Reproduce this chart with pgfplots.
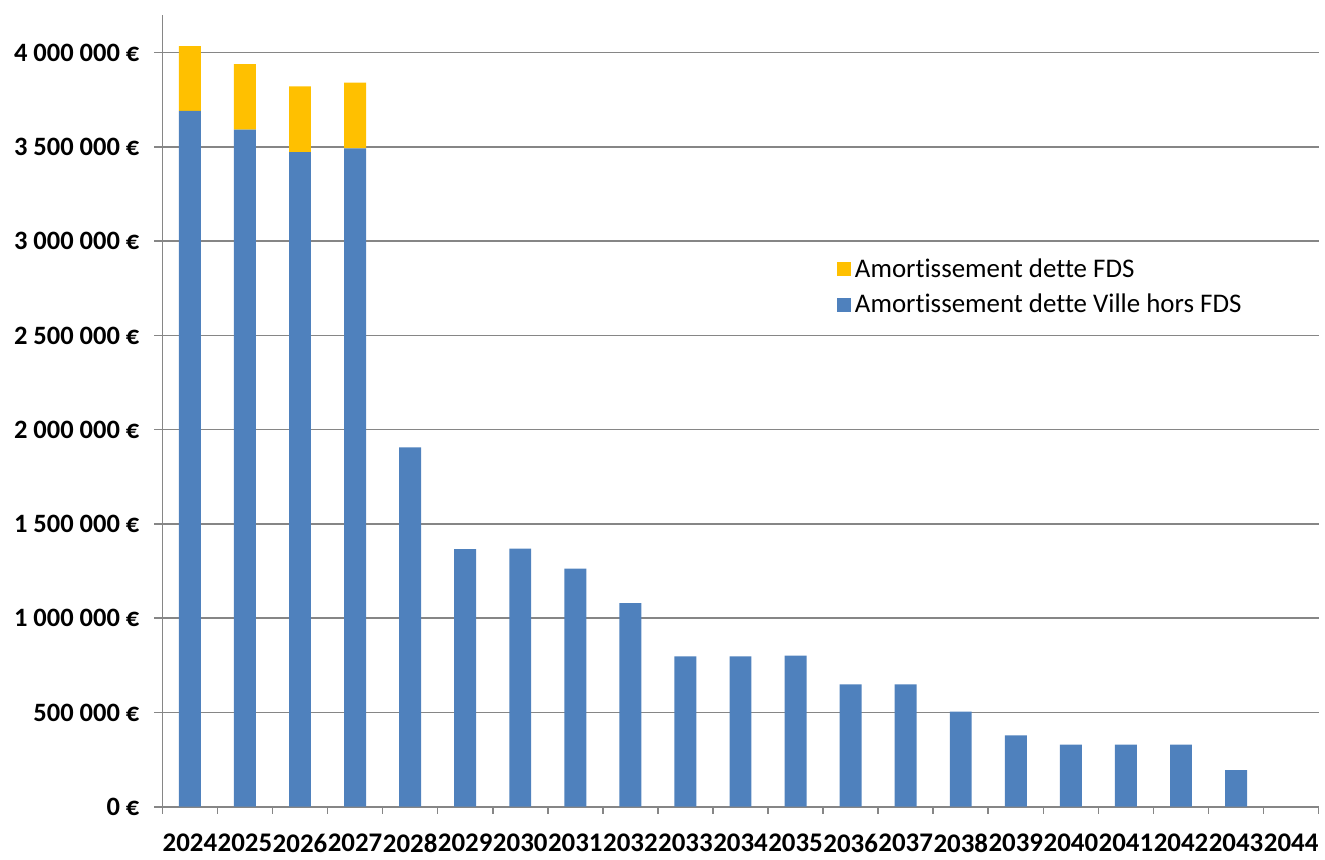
\documentclass[border=0pt]{standalone}
\usepackage{pgfplots}
\pgfplotsset{compat=1.18}
\usepackage{fontspec}
\setmainfont[Ligatures={NoCommon}]{Carlito}
\definecolor{xlblue}{RGB}{79,129,189}
\definecolor{xlgold}{RGB}{255,192,0}
\definecolor{xlgrid}{RGB}{134,134,134}
\begin{document}
\begin{tikzpicture}
\path (0bp,0bp) rectangle (662.5bp,428.5bp);
\begin{axis}[
  at={(81.5bp,23.5bp)}, anchor=south west,
  scale only axis, width=580.5bp, height=397.5bp,
  ybar stacked, bar width=11bp,
  xmin=-0.5, xmax=20.5, ymin=0, ymax=4200000,
  axis lines*=left,
  axis line style={xlgrid, line width=0.8bp, -},
  ymajorgrids, major grid style={xlgrid, line width=0.8bp},
  scaled y ticks=false,
  ytick={0,500000,1000000,1500000,2000000,2500000,3000000,3500000,4000000},
  yticklabels={0 €,500 000 €,1 000 000 €,1 500 000 €,2 000 000 €,2 500 000 €,3 000 000 €,3 500 000 €,4 000 000 €},
  xtick={0,1,2,3,4,5,6,7,8,9,10,11,12,13,14,15,16,17,18,19,20},
  xticklabels={2024,2025,2026,2027,2028,2029,2030,2031,2032,2033,2034,2035,2036,2037,2038,2039,2040,2041,2042,2043,2044},
  minor xtick={-0.5,0.5,...,20.5},
  tick align=outside,
  major x tick style={draw=none},
  major y tick style={xlgrid, line width=0.8bp},
  minor x tick style={xlgrid, line width=0.8bp},
  major tick length=4bp, minor tick length=3.5bp,
  yticklabel style={font=\fontsize{13.3bp}{15bp}\selectfont\bfseries, xshift=-4bp},
  xticklabel style={font=\fontsize{13.5bp}{16bp}\selectfont\bfseries, yshift=-6bp},
  legend style={at={(0.578,0.703)}, anchor=north west, draw=none, fill=none,
    font=\fontsize{13.5bp}{16bp}\selectfont, row sep=3bp},
  legend cell align=left,
  reverse legend,
  legend image code/.code={\fill[#1] (0bp,-3.5bp) rectangle (7bp,3.5bp);},
]
\addplot[fill=xlblue, draw=none] coordinates {
(0,3691000) (1,3592000) (2,3472000) (3,3492000) (4,1906000) (5,1367000) (6,1369000)
(7,1263000) (8,1080000) (9,797000) (10,797000) (11,802000) (12,649000) (13,649000)
(14,504000) (15,379000) (16,329000) (17,329000) (18,329000) (19,194000) (20,0)};
\addlegendentry{Amortissement dette Ville hors FDS}
\addplot[fill=xlgold, draw=none] coordinates {
(0,343000) (1,347000) (2,349000) (3,349000) (4,0) (5,0) (6,0)
(7,0) (8,0) (9,0) (10,0) (11,0) (12,0) (13,0)
(14,0) (15,0) (16,0) (17,0) (18,0) (19,0) (20,0)};
\addlegendentry{Amortissement dette FDS}
\end{axis}
\end{tikzpicture}
\end{document}
